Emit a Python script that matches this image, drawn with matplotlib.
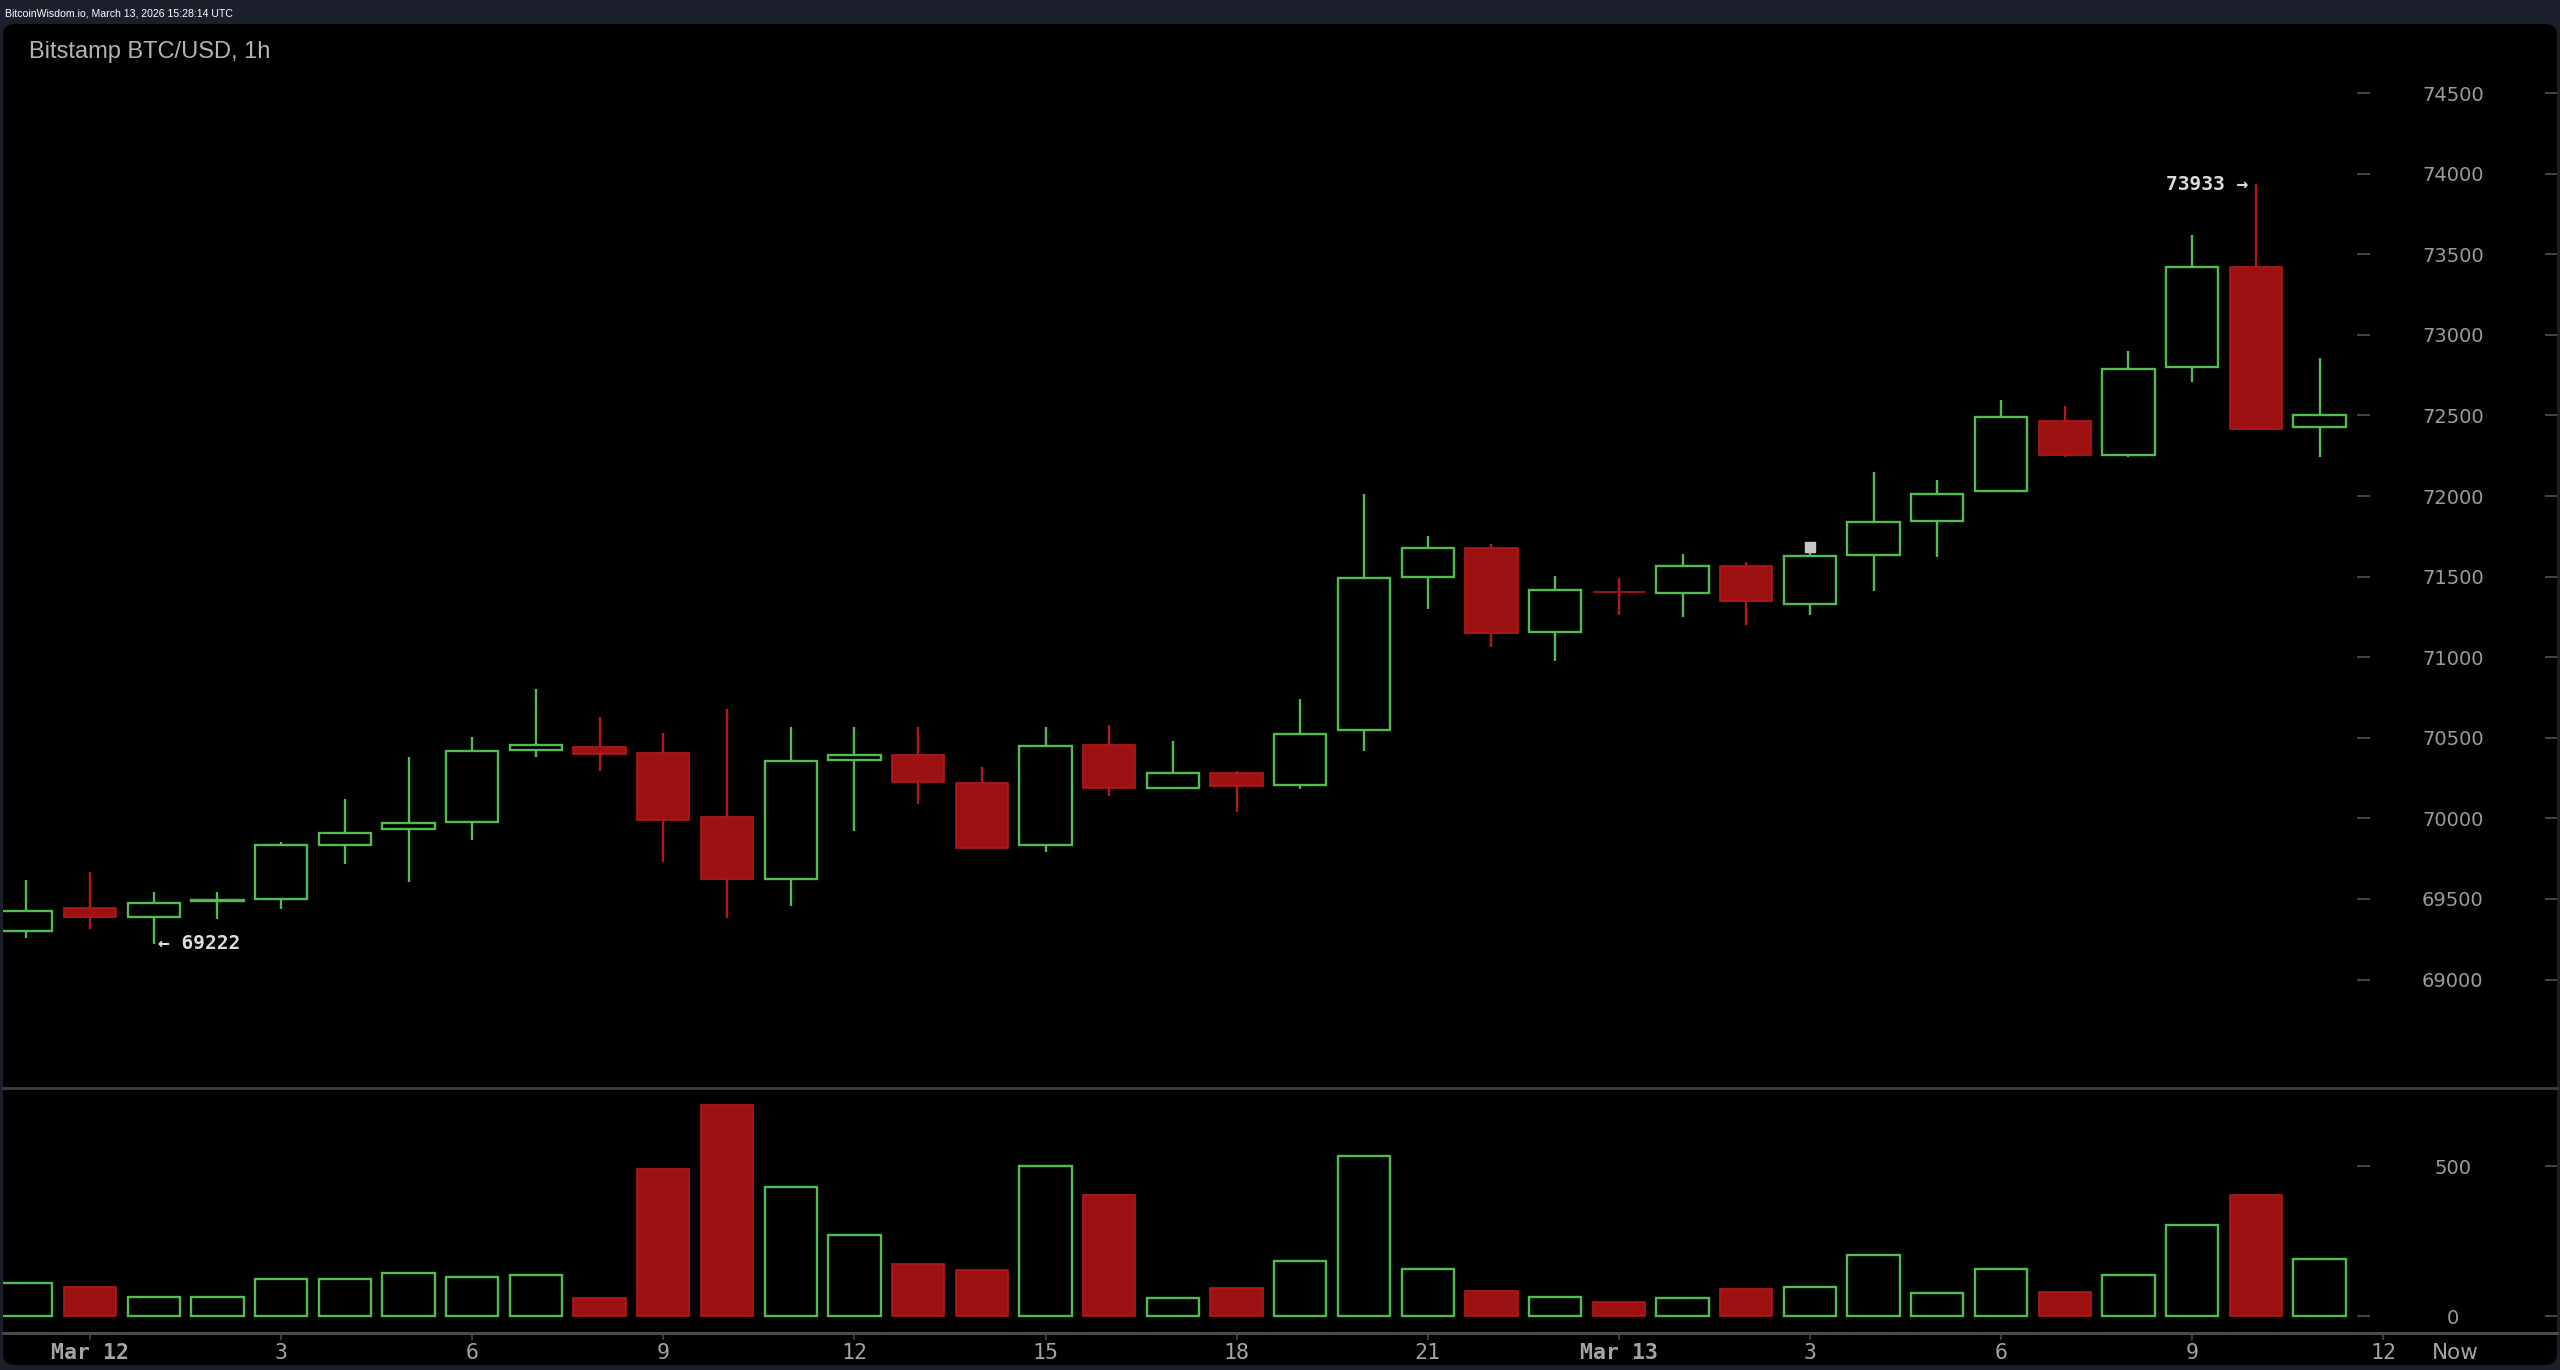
import matplotlib
matplotlib.use("Agg")
import matplotlib.pyplot as plt
from matplotlib.patches import FancyBboxPatch
import numpy as np

# ---------------- data ----------------
hours = list(range(-1, 36))  # hours relative to Mar 12 00:00 UTC
opens = [69301, 69442, 69386, 69488, 69502, 69833, 69932, 69980, 70424, 70445,
         70404, 70011, 69624, 70362, 70391, 70220, 69833, 70453, 70191, 70282,
         70205, 70548, 71500, 71678, 71154, 71405, 71400, 71566, 71328, 71636,
         71847, 72033, 72467, 72256, 72798, 73419, 72428]
highs = [69618, 69665, 69541, 69541, 69855, 70122, 70383, 70505, 70803, 70629,
         70532, 70679, 70565, 70565, 70565, 70319, 70565, 70577, 70480, 70296,
         70741, 72013, 71752, 71700, 71506, 71494, 71642, 71593, 71665, 72147,
         72099, 72596, 72558, 72902, 73619, 73933, 72854]
lows = [69260, 69312, 69222, 69374, 69436, 69717, 69605, 69866, 70383, 70296,
        69727, 69384, 69457, 69924, 70087, 69815, 69792, 70137, 70188, 70038,
        70180, 70420, 71299, 71065, 70979, 71264, 71250, 71200, 71262, 71411,
        71620, 72030, 72240, 72240, 72707, 72410, 72240]
closes = [69427, 69386, 69475, 69492, 69837, 69912, 69971, 70416, 70453, 70398,
          69990, 69622, 70354, 70391, 70224, 69818, 70451, 70191, 70280, 70201,
          70526, 71491, 71676, 71152, 71417, 71402, 71566, 71351, 71626, 71837,
          72011, 72492, 72254, 72788, 73419, 72414, 72503]
volumes = [110, 98, 64, 64, 124, 124, 145, 131, 137, 59,
           490, 702, 429, 271, 173, 152, 501, 403, 59, 92,
           184, 533, 157, 85, 64, 47, 59, 91, 97, 202,
           77, 157, 80, 137, 303, 403, 190]

price_ticks = [69000, 69500, 70000, 70500, 71000, 71500, 72000, 72500,
               73000, 73500, 74000, 74500]
volume_ticks = [0, 500]
x_tick_hours = [0, 3, 6, 9, 12, 15, 18, 21, 24, 27, 30, 33, 36]
x_tick_labels = ["Mar 12", "3", "6", "9", "12", "15", "18", "21", "Mar 13",
                 "3", "6", "9", "12"]
now_hour = 37.13
now_label = "Now"

low_mark_hour, low_mark_price = 1, 69222
high_mark_hour, high_mark_price = 34, 73933
marker_hour, marker_price = 27, 71685

title = "Bitstamp BTC/USD, 1h"
header = "BitcoinWisdom.io, March 13, 2026 15:28:14 UTC"

# ---------------- style ----------------
W, H = 2560, 1370
GREEN = "#52bb52"
RED_FILL = "#9c1111"
RED_EDGE = "#b3191a"
NAVY = "#1b1e2b"
TICKCOL = "#454545"
LABELCOL = "#9c9c9c"

fig = plt.figure(figsize=(W / 100, H / 100), dpi=100, facecolor=NAVY)

# black rounded panel (in inches)
panel = FancyBboxPatch((0.03, 0.05), 25.54, 13.41,
                       boxstyle="round,pad=0,rounding_size=0.12",
                       transform=fig.dpi_scale_trans, facecolor="black",
                       edgecolor="none", zorder=-10)
fig.patches.append(panel)

fig.text(5 / W, 1 - 13 / H, header, color="white", fontsize=7.6,
         family=["Liberation Sans Narrow", "Liberation Sans"], va="center", ha="left")
fig.text(29 / W, 1 - 52 / H, title, color="#b4b4b4", fontsize=17,
         family=["Liberation Sans"], va="center", ha="left")

left = 3 / W
width = 2554 / W
sep_y = 1088
axis_y = 1333
top_y = 25

ax = fig.add_axes([left, (H - sep_y) / H, width, (sep_y - top_y) / H])
axv = fig.add_axes([left, (H - axis_y) / H, width, (axis_y - sep_y) / H], sharex=ax)
for a in (ax, axv):
    a.set_facecolor("none")
    for s in a.spines.values():
        s.set_visible(False)

xmin, xmax = (3 - 90) / 63.7, (2557 - 90) / 63.7
ax.set_xlim(xmin, xmax)

# price scale: 74500 at y=93.06 px, 6.204 USD/px
ppx = 6.204
ax.set_ylim(74500 - (sep_y - 93.06) * ppx, 74500 + (93.06 - top_y) * ppx)
# volume scale: 0 at y=1316 px, 500 at 1166 px
vpx = 500 / 150
axv.set_ylim(-(axis_y - 1316) * vpx, (1316 - sep_y) * vpx)

bw = 0.82
x = np.array(hours, dtype=float)
o = np.array(opens, dtype=float)
c = np.array(closes, dtype=float)
hi = np.array(highs, dtype=float)
lo = np.array(lows, dtype=float)
up = c >= o

# wicks
ax.vlines(x[up], lo[up], hi[up], color=GREEN, lw=1.7, zorder=2)
ax.vlines(x[~up], lo[~up], hi[~up], color=RED_EDGE, lw=1.7, zorder=2)
# bodies
bot = np.minimum(o, c)
hgt = np.maximum(np.abs(c - o), 1.0)
ax.bar(x[up], hgt[up], bottom=bot[up], width=bw, facecolor="black",
       edgecolor=GREEN, linewidth=1.7, zorder=3)
ax.bar(x[~up], hgt[~up], bottom=bot[~up], width=bw, facecolor=RED_FILL,
       edgecolor=RED_EDGE, linewidth=1.2, zorder=3)

# small marker square
ax.plot([marker_hour], [marker_price], marker="s", ms=6.5, color="#c8c8c8",
        zorder=4, linestyle="none")

# high/low annotations
ax.text(low_mark_hour + 0.07, low_mark_price, "\u2190 " + str(low_mark_price),
        family="DejaVu Sans Mono", fontweight="bold", fontsize=14,
        color="#dcdcdc", ha="left", va="center", zorder=5)
ax.text(high_mark_hour - 0.12, high_mark_price, str(high_mark_price) + " \u2192",
        family="DejaVu Sans Mono", fontweight="bold", fontsize=14,
        color="#dcdcdc", ha="right", va="center", zorder=5)

# volume bars
v = np.array(volumes, dtype=float)
axv.bar(x[up], v[up], width=bw, facecolor="black", edgecolor=GREEN,
        linewidth=1.7, zorder=3)
axv.bar(x[~up], v[~up], width=bw, facecolor=RED_FILL, edgecolor=RED_EDGE,
        linewidth=1.2, zorder=3)

# separator and axis lines
ax.spines["bottom"].set_visible(True)
ax.spines["bottom"].set_color("#3d3d3d")
ax.spines["bottom"].set_linewidth(2.0)
axv.spines["bottom"].set_visible(True)
axv.spines["bottom"].set_color("#4a4a4a")
axv.spines["bottom"].set_linewidth(2.2)

# y ticks (right side, labels inside)
for a, ticks in ((ax, price_ticks), (axv, volume_ticks)):
    a.yaxis.tick_right()
    a.set_yticks(ticks)
    a.set_yticklabels([str(t) for t in ticks])
    a.tick_params(axis="y", direction="in", length=8.6, width=1.4,
                  colors=TICKCOL, labelcolor=LABELCOL, labelsize=14,
                  pad=-75, left=False, right=True, labelleft=False,
                  labelright=True)
    for lab in a.get_yticklabels():
        lab.set_horizontalalignment("center")
        lab.set_family("DejaVu Sans")
    a.hlines(ticks, (2357 - 3) / 2554, (2370 - 3) / 2554,
             transform=a.get_yaxis_transform(), color=TICKCOL, lw=1.4)

# x ticks
ax.tick_params(axis="x", which="both", bottom=False, labelbottom=False)
axv.set_xticks(x_tick_hours)
axv.set_xticklabels(x_tick_labels)
axv.tick_params(axis="x", which="major", direction="out", length=5, width=1.2,
                colors=TICKCOL, labelcolor="#a4a4a4", labelsize=15.5, pad=2)
for lab in axv.get_xticklabels():
    lab.set_family("DejaVu Sans Mono")
    if lab.get_text().startswith("Mar"):
        lab.set_fontweight("bold")
axv.set_xticks([now_hour], [now_label], minor=True)
axv.tick_params(axis="x", which="minor", length=0, labelsize=15.5,
                labelcolor="#a4a4a4", pad=7)
for lab in axv.get_xticklabels(minor=True):
    lab.set_family("DejaVu Sans")
axv.set_xlim(xmin, xmax)

fig.savefig("out.png", dpi=100, facecolor=NAVY)
